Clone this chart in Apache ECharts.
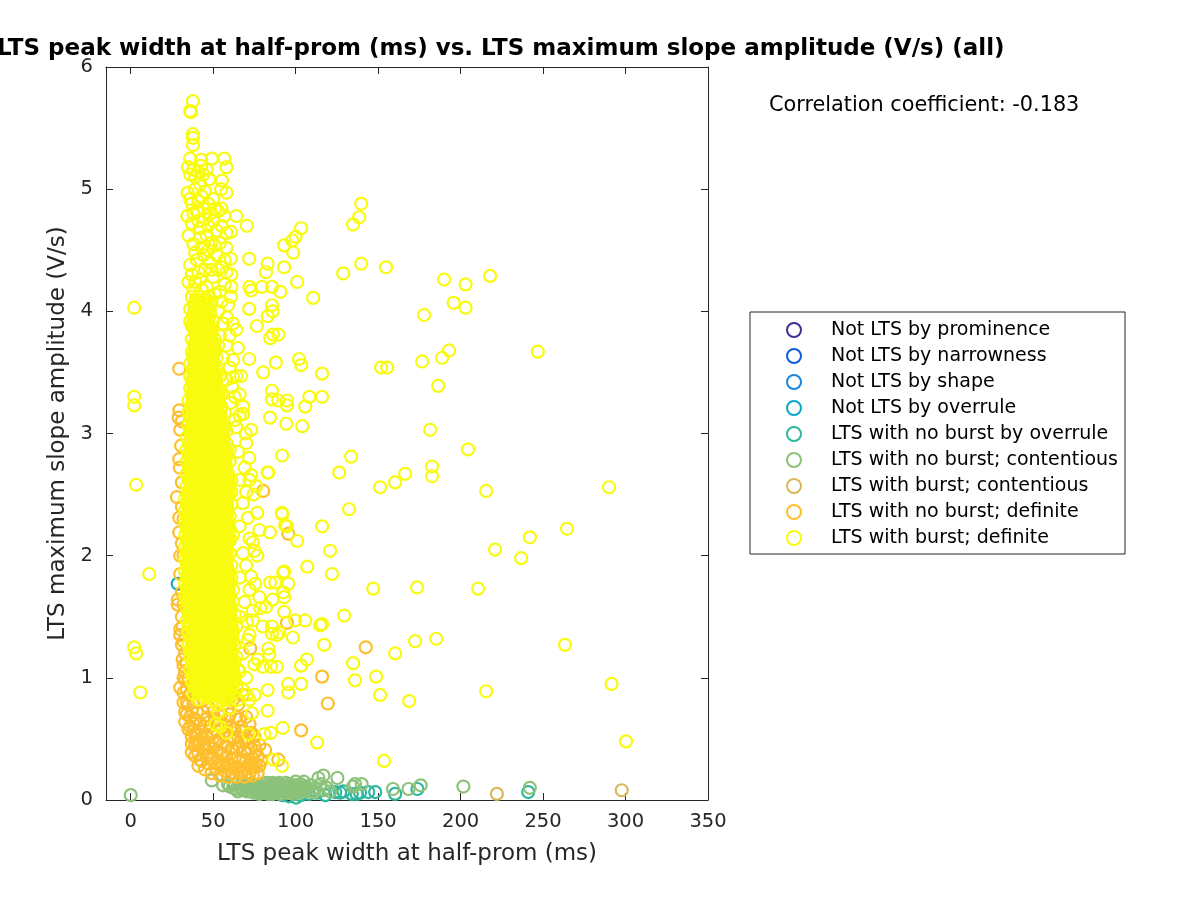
<!DOCTYPE html>
<html><head><meta charset="utf-8">
<style>html,body{margin:0;padding:0;background:#fff}#c{width:1200px;height:900px}</style>
<script src="https://cdn.jsdelivr.net/npm/echarts@6/dist/echarts.min.js"></script>
</head><body><div id="c"></div>
<script>
const FONT = '"DejaVu Sans"';
const seriesNames = ['Not LTS by prominence','Not LTS by narrowness','Not LTS by shape','Not LTS by overrule','LTS with no burst by overrule','LTS with no burst; contentious','LTS with burst; contentious','LTS with no burst; definite','LTS with burst; definite'];
const seriesColors = ['#3f2f96','#0f5fdc','#1a86de','#0ba8c8','#2db79f','#8cc27a','#d9b95a','#fdbf2d','#f9fb0e'];
const xTicks = [0,50,100,150,200,250,300,350];
const yTicks = [0,1,2,3,4,5,6];

const notLtsProminence = [];
const notLtsNarrowness = [];
const notLtsShape = [];
const notLtsOverrule = [[28.5,1.77]];
const noBurstOverrule = [[100.3,.02],[103,.04],[108,.05],[113,.06],[118,.04],[124,.065],[127,.06],[129,.07],[134,.05],[137,.05],[139,.06],[144,.065],[148.2,.065],[160.3,.05],[173.8,.09],[241,.065],[92,.04],[96,.03]];
const noBurstContentious = [[0,.04],[49.2,.16],[56,.12],[59,.13],[62,.1],[64,.09],[66,.11],[68,.08],[70,.1],[71,.13],[73,.07],[74,.1],[76,.12],[77,.07],[79,.09],[80,.13],[81,.06],[83,.1],[84,.07],[85,.12],[86,.05],[87,.09],[88,.13],[89,.07],[90,.1],[91,.05],[92,.12],[93,.08],[94,.14],[95,.06],[96,.1],[97,.13],[98,.07],[99,.11],[100,.15],[101,.09],[102,.06],[103,.13],[104,.1],[105,.15],[106,.07],[78,.05],[75,.09],[68,.12],[82,.11],[86,.14],[90,.14],[94,.11],[72,.1],[110,.07],[112,.1],[113.8,.18],[116.8,.2],[115,.13],[117,.08],[119,.1],[121,.07],[125.3,.18],[134.8,.11],[136,.13],[140,.13],[159,.09],[168.4,.09],[175.8,.12],[201.7,.11],[242,.1],
[60,.11],[63,.13],[65,.07],[67,.1],[69,.12],[70.5,.07],[72.5,.13],[74.5,.06],[76,.09],[78,.11],[79.5,.06],[81,.1],[82.5,.14],[83.5,.05],[85,.09],[86.5,.11],[88,.06],[89,.11],[90.5,.08],[92,.09],[93.5,.06],[95,.12],[96.5,.08],[98,.1],[99,.05],[100.5,.12],[102,.1],[103.5,.07],[105,.11],[107,.1],[109,.12],[111,.06],[73,.1],[77,.1],[81,.08],[85,.07],[89,.09],[93,.11],[97,.06],[101,.12]];
const burstContentious = [[222,.05],[297.7,.08]];
const noBurstDefinite = [[142.5,1.25],[116,1.01],[119.5,.79],[103.3,.57],[89.5,.33],[81.5,.41],[94.7,1.45],[72.4,1.24],[95.5,2.18],[80.3,2.53],[29.4,3.53],[29.5,3.19],[29,3.13],[30,3.03],[29.4,2.79],[29.8,2.72],[28,2.48],[29.4,2.31],[29.4,2.19],[30,2],[28.5,1.64],[28.5,1.6],[30,1.4],[30,1.35],[31,1.27],[31.5,1.15],[30,.92],[32,.8],[33,.64],[37,.39],[41,.28],[33,1.05],[32,1],[34,.9],[35,.78],[34,.7],[36,.68],[35,.58],[37,.52],[38,.62],[39,.45],[40,.55],[41,.38],[42,.48],[43,.32],[44,.42],[45,.25],[46,.36],[46,.52],[47,.3],[48,.44],[49,.22],[50,.34],[51,.48],[52,.26],[53,.4],[54,.2],[55,.3],[56,.46],[57,.24],[58,.36],[59,.19],[60,.28],[61,.42],[62,.22],[63,.34],[64,.19],[65,.27],[66,.44],[67,.22],[68,.33],[69,.19],[70,.26],[71,.38],[72,.22],[73,.3],[74,.2],[75,.27],[76,.4],[77,.22],[78,.28],[42,.62],[44,.72],[46,.66],[48,.6],[50,.72],[53,.62],[55,.7],[58,.6],[60,.7],[63,.58],[66,.66],[68,.56],[38,.8],[40,.72],[70,.5],[72,.62],[75,.52],[78,.45],[65,.78],[68,.86],[62,.82],
[33,1.2],[34,1.12],[32,1.1],[33,.98],[35,1],[32,.88],[36,.86],[34,.8],[33,.72],[37,.74],[36,.6],[38,.56],[39,.66],[37,.46],[40,.48],[39,.36],[41,.45],[42,.33],[43,.56],[44,.5],[45,.6],[45,.42],[47,.46],[48,.34],[49,.54],[50,.42],[51,.3],[52,.56],[53,.32],[54,.5],[55,.38],[56,.28],[57,.54],[58,.44],[59,.3],[60,.52],[61,.34],[62,.5],[63,.26],[64,.42],[65,.52],[66,.32],[67,.48],[68,.24],[69,.4],[70,.32],[71,.5],[72,.3],[73,.42],[74,.34],[75,.44],[76,.3],[77,.36],[79,.32],[44,.82],[47,.76],[51,.66],[56,.78],[59,.66],[61,.6],[64,.68],[67,.6],[70,.68],[73,.55],[31,1.5],[31,1.7],[30,1.85],[31,2.1],[31,2.4],[31,2.6],[30.5,2.9],[31.5,1.42],[32,1.3],[32,1.6],[32,2],[32,2.3],[31,3.1]];

const burstDefiniteSparse = [[2.1,4.03],[2.1,3.3],[2.1,3.23],[3.3,2.58],[11.2,1.85],[2.1,1.25],[3.3,1.2],[5.8,.88],
[37.7,5.72],[36,5.64],[36.5,5.63],[37.7,5.45],[37.7,5.42],[37.7,5.36],[36,5.25],[49.2,5.25],[56.7,5.25],[58,5.18],[42.7,5.24],[42.7,5.19],[34.7,5.18],[47.6,5.08],[55.3,5.07],[58,4.97],[54.8,5],[34.5,4.97],[64,4.78],[70.4,4.7],[34.3,4.78],[55,4.84],[53,4.82],[56.7,4.78],[71.8,4.43],[60.7,4.65],[58,4.64],[60.7,4.43],[83,4.39],[82,4.32],[93,4.36],[72,4.2],[73,4.17],[79.5,4.2],[85.6,4.2],[90.7,4.16],[61,4.2],[60.7,4.12],[71.8,4.02],[85.6,4.05],[86,4],[83,3.96],[58.3,3.95],[76.5,3.88],[64,3.85],[84.5,3.78],[86.2,3.81],[89.5,3.81],[71.8,3.61],[88,3.58],[80.3,3.5],[66.8,3.47],[64,3.47],[61.5,3.38],[85.6,3.35],[85.6,3.28],[89.5,3.27],[94.7,3.27],[94.7,3.23],[108.3,3.3],[116,3.3],[116,3.49],[105.8,3.22],[84.4,3.13],[94.3,3.08],[104,3.06],[68.2,3.22],[68.2,3.16],[60.3,3.25],[63.3,3.11],[73,3.03],[69.7,3],
[139.7,4.88],[138.5,4.77],[134.8,4.71],[103.3,4.68],[100,4.61],[97.9,4.58],[93,4.54],[98.5,4.48],[139.7,4.39],[154.8,4.36],[128.8,4.31],[217.9,4.29],[190,4.26],[203,4.22],[100.9,4.24],[110.6,4.11],[195.8,4.07],[203,4.03],[177.9,3.97],[246.8,3.67],[193,3.68],[188.8,3.62],[176.7,3.59],[151.8,3.54],[155.5,3.54],[186.4,3.39],[102,3.61],[103.3,3.56],[181.5,3.03],[204.5,2.87],[133.6,2.81],[91.8,2.82],[182.7,2.73],[182.7,2.65],[166.4,2.67],[126.4,2.68],[83.3,2.68],[160.3,2.6],[151.2,2.56],[215.5,2.53],[290,2.56],[132.4,2.38],[91.8,2.34],[93.6,2.25],[116,2.24],[100.9,2.12],[120.9,2.04],[264.5,2.22],[242,2.15],[220.9,2.05],[236.7,1.98],[210.6,1.73],[173.6,1.74],[147,1.73],[122,1.85],[107,1.91],[92.4,1.86],[129.4,1.51],[116,1.44],[114.8,1.43],[185.2,1.32],[172.4,1.3],[117.3,1.27],[160.3,1.2],[263.3,1.27],[134.8,1.12],[136,.98],[148.8,1.01],[151.2,.86],[168.8,.81],[215.5,.89],[291.5,.95],[300.3,.48],[113,.47],[153.6,.32],
[71.8,2.8],[83,2.68],[73,2.66],[76,2.57],[74.5,2.5],[68,2.43],[76.7,2.35],[91.6,2.35],[71,2.31],[94.7,2.24],[78,2.21],[84.4,2.19],[74,2.11],[75,2.04],[76.7,2],[93,1.87],[95.5,1.77],[84.5,1.78],[87.6,1.78],[75.5,1.77],[78,1.66],[86,1.64],[93,1.66],[92.5,1.7],[93,1.54],[99.7,1.47],[105.8,1.47],[78.5,1.57],[82,1.58],[70.4,1.46],[74,1.47],[80,1.42],[85.6,1.42],[85.6,1.36],[88.6,1.35],[90,1.37],[98.3,1.33],[71,1.31],[83.4,1.24],[84,1.19],[77,1.15],[75,1.11],[80,1.09],[85,1.09],[88.6,1.09],[106.8,1.15],[103.3,1.1],[95.5,.95],[95.5,.88],[103.3,.95],[83,.9],[70.4,.86],[73.5,.71],[83,.73],[92.2,.59],[85,.55],[81,.54],[71.3,.54],[58,.55],[51.5,.62],[54,.6],[91.7,.28],[86.5,.33],[70,1],[66,1.05],[62,.95],[57,.82],[52,.78],[49,.85],[53,.72],[60,.75],[65,.82],[68,.9],[72,.82],[75,.86],
[66,1.5],[69,1.62],[72,1.72],[66,1.82],[70,1.92],[68,2.02],[72,2.14],[66,2.24],[70,2.52],[66,2.62],[69,2.72],[65,2.85],[70,2.92],[66,3.32],[68,1.2],[72,1.35],[74,1.55],[73,1.83],[64,3.05],[66,3.15],[63,3.3],[72,2.62],[62,3.6],[65,3.7],[60,3.8],[62,3.9],[59,4.05],[61,4.3],[57,4.42],[58,4.52],[54,4.56],[55,4.7],[52,4.66],[50,4.74],[47,4.88],[50,4.92],[45,4.98],[42,5.04],[39,5.1],[44,5.12],[37,4.88],[41,4.9],[35,4.62],[38,4.55],[42,4.6],[46,4.62],[49,4.56],[36,4.38],[40,4.42],[44,4.46],[48,4.4],[52,4.46],[55,4.36],[58,4.32],[35,4.24],[38,4.18],[42,4.26],[46,4.2],[50,4.28],[54,4.16],[57,4.22],[37,4.72],[41,4.74],[45,4.76],[39,5],[43,4.94],[47,4.7],
[36,5.12],[38,5.16],[41,5.14],[46,5.16],[40,4.82],[44,4.84],[48,4.8],[51,4.84],[36,4.92],[38,4.8],[42,4.68],[39,4.48],[43,4.52],[47,4.5],[51,4.54],[53,4.34],[49,4.34],[45,4.34],[41,4.32],[37,4.3],[39,4.24],[43,4.18],[47,4.12],[51,4.14],[55,4.08],[53,4],[56,3.9],[54,3.8],[58,3.72],[56,3.62],[60,3.54],[58,3.44],[62,3.46]];

/* dense core of the cloud, read as rows: [amplitude, widths...] */
const burstDefiniteCore = [
[.82,41,50,60],[.87,38,47,57,62],[.92,40,44,49,54,59,64],[.97,37,42,46,51,56,61],[1.02,39,44,48,53,58,63],[1.07,36,41,45,50,55,60,65],[1.12,38,43,47,52,57,62],[1.17,36,40,45,49,54,59,64],[1.22,37,42,46,51,56,61],[1.27,35,39,44,48,53,58,63],[1.32,37,41,46,50,55,60],[1.37,35,39,43,48,52,57,62],[1.42,36,41,45,50,54,59,64],
[1.47,34,38,43,47,52,56,61],[1.52,36,40,45,49,54,58,63],[1.57,34,38,42,47,51,56,60],[1.62,35,40,44,49,53,58,62],[1.67,33,37,42,46,51,55,60],[1.72,35,39,44,48,53,57,62],[1.77,33,37,41,46,50,55,59],[1.82,34,39,43,48,52,57,61],[1.87,33,37,41,45,50,54,59],[1.92,35,39,43,47,52,56,61],[1.97,33,37,41,46,50,54,58],[2.02,35,39,43,48,52,56,60],[2.07,33,37,41,45,50,54,58],[2.12,35,39,43,47,52,56,60],[2.17,33,37,41,46,50,54,58,62],[2.22,35,39,44,48,52,56,60],[2.27,33,37,41,45,50,54,58],
[2.32,35,39,43,47,52,56,60],[2.37,33,37,42,46,50,54,58],[2.42,35,39,44,48,52,56,61],[2.47,33,38,42,46,50,54,59],[2.52,36,40,44,48,52,57,61],[2.57,34,38,42,46,50,55,59],[2.62,36,40,44,48,53,57,61],[2.67,34,38,42,46,51,55,59],[2.72,36,40,44,49,53,57],[2.77,34,38,42,47,51,55,60],[2.82,36,40,45,49,53,58],[2.87,34,38,43,47,51,56,60],[2.92,36,41,45,49,54,58],[2.97,34,39,43,47,52,56],[3.02,37,41,45,50,54,58],[3.07,35,39,43,48,52,56],[3.12,37,41,46,50,54],[3.17,35,39,44,48,52,57],[3.22,37,42,46,50,55],[3.27,35,40,44,48,53],[3.32,38,42,46,51,55],[3.37,36,40,44,49,53],[3.42,38,42,47,51],[3.47,36,40,45,49,54],[3.52,38,43,47,52],[3.57,36,41,45,50],[3.62,39,43,48,52],[3.67,37,41,46,50],[3.72,39,44,48,53],[3.77,37,42,46,51],[3.82,40,44,49],[3.87,38,42,47],[3.92,36,40,45,50],[3.97,38,43,48],[4.02,36,41,46],[4.07,39,44,49],[4.12,37,42,47],
[.85,44,53],[.9,41.5,46,51,56,61],[.95,39,44,48.5,53.5,58],[1,41,46,50.5,55.5,60.5],[1.05,38,43,47.5,52.5,57.5,62],[1.1,40,45,49.5,54.5,59.5],[1.15,38,42.5,47,51.5,56.5,61.5],[1.2,39.5,44,48.5,53.5,58.5],[1.25,37,41.5,46,50.5,55.5,60.5],[1.3,39,43.5,48,52.5,57.5,62],[1.35,37,41,45.5,50,54.5,59.5],[1.4,38.5,43,47.5,52,56.5,61.5],
[1.45,36,40.5,45,49.5,54,58.5],[1.5,38,42.5,47,51.5,56,60.5],[1.55,36,40,44.5,49,53.5,58],[1.6,37.5,42,46.5,51,55.5,60],[1.65,35,39.5,44,48.5,53,57.5],[1.7,37,41.5,46,50.5,55,59.5],[1.75,35,39,43.5,48,52.5,57],[1.8,36.5,41,45.5,50,54.5,59],[1.85,35,39,43,47.5,52,56.5],[1.9,37,41,45,49.5,54,58.5],[1.95,35,39,43,48,52,56],[2,37,41,45.5,50,54,58],[2.05,35,39,43,47.5,52,56],[2.1,37,41,45,49.5,54,58],[2.15,35,39,43,48,52,56,60],[2.2,37,41,46,50,54,58],[2.25,35,39,43,47.5,52,56],
[2.3,37,41,45,49.5,54,58],[2.35,35,39,44,48,52,56],[2.4,37,41,46,50,54,58.5],[2.45,35,40,44,48,52,56.5],[2.5,38,42,46,50,54.5,59],[2.55,36,40,44,48,52.5,57],[2.6,38,42,46,50.5,55,59],[2.65,36,40,44,48.5,53,57],[2.7,38,42,46.5,51,55],[2.75,36,40,44.5,49,53,57.5],[2.8,38,42.5,47,51,55.5],[2.85,36,40.5,45,49,53.5,58],[2.9,38.5,43,47,51.5,56],[2.95,36.5,41,45,49.5,54],[3,39,43,47.5,52,56],[3.05,37,41,45.5,50,54],[3.1,39,43.5,48,52],[3.15,37,41.5,46,50,54.5],[3.2,39.5,44,48,52.5],[3.25,37.5,42,46,50.5],[3.3,40,44,48.5,53],[3.35,38,42,46.5,51],[3.4,40,44.5,49],[3.45,38,42.5,47,51.5],[3.5,40.5,45,49.5],[3.55,38.5,43,47.5],[3.6,41,45.5,50],[3.65,39,43.5,48],[3.7,41.5,46,50.5],[3.75,39.5,44,48.5],[3.8,42,46.5],[3.85,40,44.5,49],[3.9,38,42.5,47],[3.95,40.5,45.5],[4,38.5,43.5,48],[4.05,41.5,46.5],[4.1,39.5,44.5],
[.84,47,56.5],[.89,44.5,49,54,59],[.94,42,46.5,51,56,61],[.99,39.5,44,48.5,53,58,63],[1.04,41,45.5,50,55,60],[1.09,38.5,43,47.5,52,57,62],[1.14,40.5,45,49.5,54.5,59],[1.19,38,42.5,47,51.5,56,61],[1.24,39.5,44,48.5,53,58],[1.29,37,41.5,46,50.5,55,60],[1.34,39,43.5,48,52.5,57,61.5],[1.39,37,41,45.5,50,54.5,59],[1.44,38.5,43,47.5,52,56.5,61],
[1.49,36,40,44.5,49,53.5,58],[1.54,38,42,46.5,51,55.5,60],[1.59,36,40,44,48.5,53,57.5],[1.64,37.5,41.5,46,50.5,55,59.5],[1.69,35,39.5,43.5,48,52.5,57],[1.74,37,41,45.5,50,54.5,59],[1.79,35,39,43,47.5,52,56.5],[1.84,36.5,40.5,45,49.5,54,58.5],[1.89,35,39,43,47,51.5,56],[1.94,37,41,45,49,53.5,58],[1.99,35,39,43,47.5,51.5,56],[2.04,37,41,45,49.5,53.5,58],[2.09,35,39,43,47,51.5,56],[2.14,37,41,45,49,53.5,58],[2.19,35,39,43,47.5,51.5,56],[2.24,37,41,45.5,49.5,53.5,58],[2.29,35,39,43,47,51.5,56],
[2.34,37,41,45,49,53.5,58],[2.39,35,39.5,43.5,47.5,51.5,56],[2.44,37,41.5,45.5,49.5,53.5,58],[2.49,35,39.5,43.5,47.5,52,56.5],[2.54,38,42,46,50,54.5,59],[2.59,36,40,44,48,52.5,57],[2.64,38,42,46,50.5,55,59],[2.69,36,40,44,48.5,53,57],[2.74,38,42,46.5,51,55],[2.79,36,40,44.5,49,53,57.5],[2.84,38,42.5,47,51,55.5],[2.89,36,40.5,45,49,53.5],[2.94,38.5,43,47,51.5,56],[2.99,36.5,41,45,49.5,54],[3.04,39,43,47.5,52,56],[3.09,37,41,45.5,50,54],[3.14,39,43.5,48,52],[3.19,37,41.5,46,50,54.5],[3.24,39.5,44,48,52.5],[3.29,37.5,42,46,50.5],[3.34,40,44,48.5,53],[3.39,38,42,46.5,51],[3.44,40,44.5,49],[3.49,38,42.5,47,51.5],[3.54,40.5,45,49.5],[3.59,38.5,43,47.5],[3.64,41,45.5,50],[3.69,39,43.5,48],[3.74,41.5,46,50.5],[3.79,39.5,44,48.5],[3.84,42,46.5],[3.89,40,44.5],[3.94,38,42.5,47],[3.99,40.5,45.5],[4.04,38.5,43.5],[4.09,41.5,46.5],
[.88,41,50,60],[.93,38.5,43,47.5,52.5,57.5],[.98,41,45,49.5,54.5,59.5],[1.03,37.5,42,46.5,51.5,56.5,61.5],[1.08,39.5,44,48.5,53.5,58.5],[1.13,37,41.5,46,50.5,55.5,60.5],[1.18,39,43.5,48,52.5,57.5],[1.23,36,40.5,45,49.5,54.5,59.5],[1.28,38,42.5,47,51.5,56.5],[1.33,36,40,44.5,49,53.5,58.5],[1.38,38,42,46.5,51,55.5,60.5],[1.43,35,39.5,44,48.5,53,57.5],
[1.48,37,41.5,46,50.5,55,59.5],[1.53,35,39,43.5,48,52.5,57],[1.58,36,40.5,45,49.5,54,58.5],[1.63,34,38.5,43,47.5,52,56.5],[1.68,36,40.5,45,49.5,54,58.5],[1.73,34,38,42.5,47,51.5,56],[1.78,35.5,40,44.5,49,53.5,58],[1.83,34,38,42,46.5,51,55.5],[1.88,36,40,44,48.5,53,57.5],[1.93,34,38,42,46.5,51,55],[1.98,36,40,44.5,49,53,57],[2.03,34,38,42,46.5,51,55],[2.08,36,40,44,48.5,53,57],[2.13,34,38,42,47,51,55],[2.18,36,40,45,49,53,57],[2.23,34,38,42,46.5,51,55],[2.28,36,40,44,48.5,53,57],[2.33,34,38,43,47,51,55],[2.38,36,40,45,49,53,57],[2.43,34,39,43,47,51,55.5],[2.48,37,41,45,49,53,58],[2.53,35,39,43,47,51.5,56],[2.58,37,41,45,49,54,58],[2.63,35,39,43,47.5,52,56],[2.68,37,41,45,50,54],[2.73,35,39,43.5,48,52,56.5],[2.78,37,41.5,46,50,54.5],[2.83,35,39.5,44,48,52.5,57],[2.88,37.5,42,46,50.5,55],[2.93,35.5,40,44,48.5,53],[2.98,38,42,46.5,51,55],[3.03,36,40,44.5,49,53],[3.08,38,42.5,47,51],[3.13,36,40.5,45,49,53.5],[3.18,38.5,43,47,51.5],[3.23,36.5,41,45,49.5],[3.28,39,43,47.5,52],[3.33,37,41,45.5,50],[3.38,39,43.5,48],[3.43,37,41.5,46,50.5],[3.48,39.5,44,48.5],[3.53,37.5,42,46.5],[3.58,40,44.5,49],[3.63,38,42.5,47],[3.68,40.5,45,49.5],[3.73,38.5,43,47.5],[3.78,41,45.5],[3.83,39,43.5,48],[3.88,37,41.5,46],[3.93,39.5,44.5]];

const burstDefinite = burstDefiniteSparse.concat(burstDefiniteCore.flatMap(r => r.slice(1).map(x => [x, r[0]])));
const seriesData = [notLtsProminence,notLtsNarrowness,notLtsShape,notLtsOverrule,noBurstOverrule,noBurstContentious,burstContentious,noBurstDefinite,burstDefinite];

const axisCommon = {
  axisLine:{show:true,onZero:false,lineStyle:{color:'#262626',width:1}},
  splitLine:{show:false}
};
const tickStyle = {lineStyle:{color:'#262626',width:1}};
const chart = echarts.init(document.getElementById('c'),null,{renderer:'canvas'});
chart.setOption({
  animation:false,
  backgroundColor:'#fff',
  title:[
    {text:'LTS peak width at half-prom (ms) vs. LTS maximum slope amplitude (V/s) (all)',left:-3,top:38,padding:0,
     textStyle:{fontFamily:FONT,fontSize:23,fontWeight:'bold',color:'#000'}},
    {text:'Correlation coefficient: -0.183',left:769,top:95,padding:0,
     textStyle:{fontFamily:FONT,fontSize:20.8,fontWeight:'normal',color:'#000'}}
  ],
  grid:{left:106,top:67,width:602,height:733,containLabel:false},
  xAxis:[
    Object.assign({},axisCommon,{type:'value',position:'bottom',min:-15,max:350,
      name:'LTS peak width at half-prom (ms)',nameLocation:'middle',nameGap:43,
      nameTextStyle:{fontFamily:FONT,fontSize:23,color:'#262626'},
      axisTick:Object.assign({show:true,inside:true,length:7,customValues:xTicks},tickStyle),
      axisLabel:{show:true,customValues:xTicks,fontFamily:FONT,fontSize:19.5,color:'#262626',margin:12}}),
    Object.assign({},axisCommon,{type:'value',position:'top',min:-15,max:350,
      axisTick:Object.assign({show:true,inside:true,length:7,customValues:xTicks},tickStyle),
      axisLabel:{show:false}})
  ],
  yAxis:[
    Object.assign({},axisCommon,{type:'value',position:'left',min:0,max:6,interval:1,
      name:'LTS maximum slope amplitude (V/s)',nameLocation:'middle',nameGap:30,
      nameTextStyle:{fontFamily:FONT,fontSize:23,color:'#262626'},
      axisTick:Object.assign({show:true,inside:true,length:7,customValues:yTicks},tickStyle),
      axisLabel:{show:true,customValues:yTicks,fontFamily:FONT,fontSize:19.5,color:'#262626',margin:13}}),
    Object.assign({},axisCommon,{type:'value',position:'right',min:0,max:6,interval:1,
      axisTick:Object.assign({show:true,inside:true,length:7,customValues:yTicks},tickStyle),
      axisLabel:{show:false}})
  ],
  legend:{
    orient:'vertical',left:750,top:312,height:400,
    padding:[8,7,6,36],
    borderColor:'#262626',borderWidth:1,
    itemWidth:64,itemHeight:14,itemGap:6,
    icon:'circle',
    selectedMode:false,
    textStyle:{fontFamily:FONT,fontSize:19,lineHeight:20,color:'#000'},
    data:seriesNames
  },
  series:seriesNames.map((n,i)=>({
    name:n,type:'scatter',data:seriesData[i],
    symbol:'circle',symbolSize:12,silent:true,progressive:0,
    clip:false,
    itemStyle:{color:'rgba(255,255,255,0)',borderColor:seriesColors[i],borderWidth:2.2,opacity:1},
    emphasis:{disabled:true}
  }))
});
</script></body></html>
